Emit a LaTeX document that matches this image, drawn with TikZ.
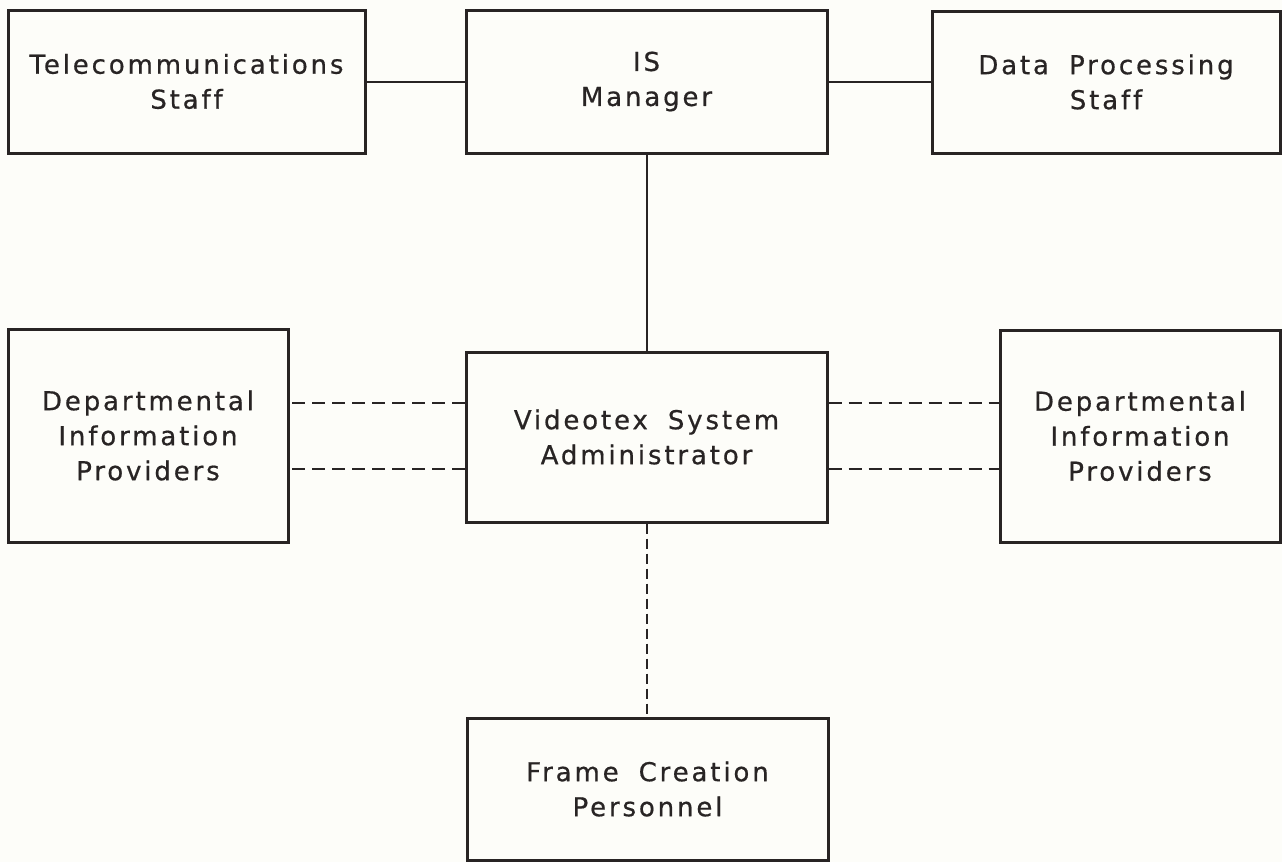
\documentclass[tikz,border=0pt]{standalone}
\usepackage{fontspec}
\setmainfont[LetterSpace=11,WordSpace=1.8,FakeBold=0.6,Ligatures=NoCommon]{DejaVu Sans}
\usepackage{tikz}
\definecolor{ink}{RGB}{40,36,36}
\definecolor{paper}{RGB}{253,253,249}
\begin{document}
\begin{tikzpicture}[x=1pt,y=-1pt,
 box/.style={draw=ink,line width=3pt,align=center,inner sep=0pt,text=ink,font=\fontsize{26}{35}\selectfont},
 solidlink/.style={draw=ink,line width=2pt},
 dashlink/.style={draw=ink,line width=2pt,dash pattern=on 13pt off 7pt},
 vdashlink/.style={dashlink,dash pattern=on 10pt off 5pt}]
\fill[paper] (0,0) rectangle (1282,862);
\useasboundingbox (0,0) rectangle (1282,862);
\node[box,minimum width=357pt,minimum height=143pt] (tele) at (186.5,81.5) {Telecommunications\\Staff};
\node[box,minimum width=361pt,minimum height=143pt] (ism) at (646.5,81.5) {IS\\Manager};
\node[box,minimum width=348pt,minimum height=142pt] (dps) at (1106,82) {Data Processing\\Staff};
\node[box,minimum width=280pt,minimum height=213pt] (dipl) at (148,435.5) {Departmental\\Information\\Providers};
\node[box,minimum width=361pt,minimum height=170pt] (vsa) at (646.5,437) {Videotex System\\Administrator};
\node[box,minimum width=280pt,minimum height=212pt] (dipr) at (1140,436) {Departmental\\Information\\Providers};
\node[box,minimum width=361pt,minimum height=142pt] (fcp) at (647.5,789) {Frame Creation\\Personnel};
\draw[solidlink] (tele.east |- ism.west) -- (ism.west);
\draw[solidlink] (ism.east) -- (dps.west |- ism.east);
\draw[solidlink] (ism.south) -- (vsa.north);
\draw[dashlink] ([yshift=34pt]vsa.west) -- ([yshift=34pt]vsa.west -| dipl.east);
\draw[dashlink] ([yshift=-32pt]vsa.west) -- ([yshift=-32pt]vsa.west -| dipl.east);
\draw[dashlink] ([yshift=34pt]vsa.east) -- ([yshift=34pt]vsa.east -| dipr.west);
\draw[dashlink] ([yshift=-32pt]vsa.east) -- ([yshift=-32pt]vsa.east -| dipr.west);
\draw[vdashlink] (vsa.south) -- (vsa.south |- fcp.north);
\end{tikzpicture}
\end{document}
